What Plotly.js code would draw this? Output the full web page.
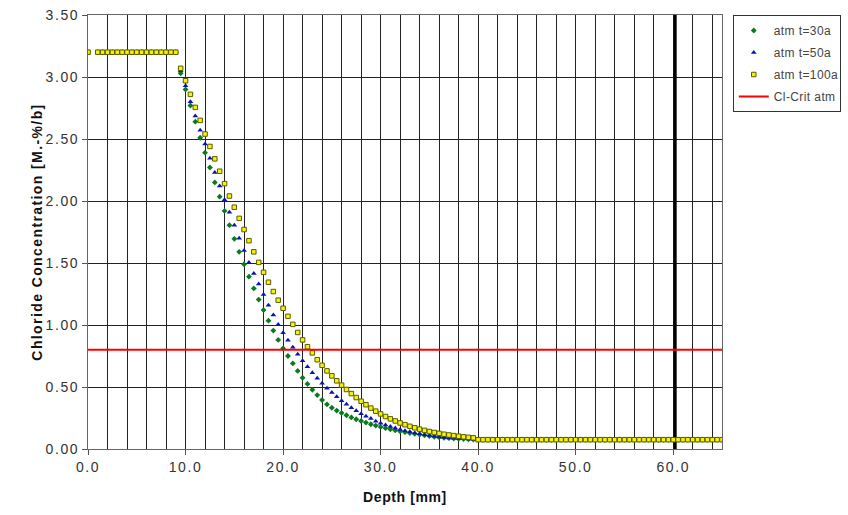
<!DOCTYPE html>
<html>
<head>
<meta charset="utf-8">
<script src="https://cdn.plot.ly/plotly-3.0.1.min.js"></script>
<style>
html,body{margin:0;padding:0;background:#fff;}
#chart{width:848px;height:515px;}
#chart .xtick text, #chart .ytick text { letter-spacing: 1.6px; }
#chart .ytitle { letter-spacing: 1.4px; }
#chart .xtitle { letter-spacing: 0.6px; }
#chart .legendtext { letter-spacing: 0.4px; }
</style>
</head>
<body>
<div id="chart"></div>
<script>
// ---- data ----
const seriesNames = ["atm t=30a", "atm t=50a", "atm t=100a"];
const critName = "Cl-Crit atm";

const plateauDepth = [0, 1.0, 1.5, 2.0, 2.5, 3.0, 3.5, 4.0, 4.5, 5.0, 5.5, 6.0, 6.5, 7.0, 7.5, 8.0, 8.5, 9.0];
const plateauConc  = [3.2, 3.2, 3.2, 3.2, 3.2, 3.2, 3.2, 3.2, 3.2, 3.2, 3.2, 3.2, 3.2, 3.2, 3.2, 3.2, 3.2, 3.2];

const profileDepth = [9.5, 10.0, 10.5, 11.0, 11.5, 12.0, 12.5, 13.0, 13.5, 14.0,
  14.5, 15.0, 15.5, 16.0, 16.5, 17.0, 17.5, 18.0, 18.5, 19.0,
  19.5, 20.0, 20.5, 21.0, 21.5, 22.0, 22.5, 23.0, 23.5, 24.0,
  24.5, 25.0, 25.5, 26.0, 26.5, 27.0, 27.5, 28.0, 28.5, 29.0,
  29.5, 30.0, 30.5, 31.0, 31.5, 32.0, 32.5, 33.0, 33.5, 34.0,
  34.5, 35.0, 35.5, 36.0, 36.5, 37.0, 37.5, 38.0, 38.5, 39.0, 39.5];

const conc30 = [3.03, 2.9, 2.77, 2.64, 2.51, 2.39, 2.27, 2.15, 2.035, 1.92,
  1.805, 1.695, 1.59, 1.49, 1.39, 1.295, 1.205, 1.12, 1.035, 0.955,
  0.88, 0.812, 0.75, 0.69, 0.63, 0.575, 0.525, 0.478, 0.435, 0.395,
  0.36, 0.333, 0.31, 0.29, 0.272, 0.255, 0.24, 0.226, 0.213, 0.2,
  0.189, 0.178, 0.168, 0.159, 0.151, 0.143, 0.136, 0.129, 0.122, 0.116,
  0.11, 0.104, 0.099, 0.095, 0.091, 0.088, 0.085, 0.082, 0.08, 0.078, 0.077];

const conc50 = [3.05, 2.93, 2.8, 2.685, 2.57, 2.46, 2.345, 2.23, 2.12, 2.01,
  1.91, 1.805, 1.7, 1.6, 1.505, 1.415, 1.33, 1.245, 1.16, 1.08,
  1.005, 0.938, 0.878, 0.82, 0.765, 0.712, 0.664, 0.615, 0.57, 0.53,
  0.49, 0.455, 0.422, 0.39, 0.36, 0.333, 0.308, 0.285, 0.264, 0.245,
  0.224, 0.208, 0.194, 0.181, 0.169, 0.158, 0.148, 0.139, 0.13, 0.122,
  0.115, 0.108, 0.102, 0.097, 0.093, 0.089, 0.086, 0.084, 0.082, 0.08, 0.079];

const conc100 = [3.07, 2.97, 2.86, 2.755, 2.65, 2.54, 2.44, 2.34, 2.24, 2.14,
  2.04, 1.95, 1.86, 1.77, 1.68, 1.59, 1.505, 1.425, 1.345, 1.27,
  1.2, 1.135, 1.07, 1.005, 0.94, 0.88, 0.825, 0.775, 0.72, 0.675,
  0.63, 0.59, 0.55, 0.515, 0.48, 0.447, 0.415, 0.385, 0.357, 0.33,
  0.305, 0.283, 0.262, 0.243, 0.226, 0.21, 0.196, 0.183, 0.171, 0.16,
  0.15, 0.141, 0.133, 0.126, 0.119, 0.113, 0.108, 0.103, 0.098, 0.094, 0.09];

const tailDepth = [40.0, 40.5, 41.0, 41.5, 42.0, 42.5, 43.0, 43.5, 44.0, 44.5,
  45.0, 45.5, 46.0, 46.5, 47.0, 47.5, 48.0, 48.5, 49.0, 49.5,
  50.0, 50.5, 51.0, 51.5, 52.0, 52.5, 53.0, 53.5, 54.0, 54.5,
  55.0, 55.5, 56.0, 56.5, 57.0, 57.5, 58.0, 58.5, 59.0, 59.5,
  60.0, 60.5, 61.0, 61.5, 62.0, 62.5, 63.0, 63.5, 64.0, 64.5, 65.0];
const tailConc = [0.075, 0.075, 0.075, 0.075, 0.075, 0.075, 0.075, 0.075, 0.075, 0.075,
  0.075, 0.075, 0.075, 0.075, 0.075, 0.075, 0.075, 0.075, 0.075, 0.075,
  0.075, 0.075, 0.075, 0.075, 0.075, 0.075, 0.075, 0.075, 0.075, 0.075,
  0.075, 0.075, 0.075, 0.075, 0.075, 0.075, 0.075, 0.075, 0.075, 0.075,
  0.075, 0.075, 0.075, 0.075, 0.075, 0.075, 0.075, 0.075, 0.075, 0.075, 0.075];

const critDepth = [0, 65];
const critConc = [0.8, 0.8];

const rebarDepth = [60.2, 60.2];
const rebarConc = [0, 3.5];

const xTickVals = [0, 10, 20, 30, 40, 50, 60];
const xTickText = ["0.0", "10.0", "20.0", "30.0", "40.0", "50.0", "60.0"];
const yTickVals = [0, 0.5, 1, 1.5, 2, 2.5, 3, 3.5];
const yTickText = ["0.00", "0.50", "1.00", "1.50", "2.00", "2.50", "3.00", "3.50"];

// ---- build traces ----
const fullDepth = plateauDepth.concat(profileDepth, tailDepth);
function full(profile) { return plateauConc.concat(profile, tailConc); }

const FONT = "Liberation Sans, Arial, sans-serif";

const traces = [
  {x: rebarDepth, y: rebarConc, mode: "lines", showlegend: false, hoverinfo: "skip",
   line: {color: "#000000", width: 3}},
  {x: fullDepth, y: full(conc30), name: seriesNames[0], mode: "markers", legendgroup: "a",
   marker: {symbol: "diamond", size: 4.5, color: "#0a7a1e", line: {width: 0}}},
  {x: fullDepth, y: full(conc50), name: seriesNames[1], mode: "markers", legendgroup: "b",
   marker: {symbol: "triangle-up", size: 5, color: "#0a14b4", line: {width: 0}}},
  {x: fullDepth, y: full(conc100), name: seriesNames[2], mode: "markers", legendgroup: "c",
   marker: {symbol: "square", size: 4.5, color: "#f5f500", line: {width: 1, color: "#5a5a00"}}},
  {x: critDepth, y: critConc, name: critName, mode: "lines", legendgroup: "d",
   line: {color: "#ff0000", width: 2}}
];

const layout = {
  width: 848, height: 515,
  margin: {l: 88, r: 126, t: 15, b: 66, autoexpand: false},
  paper_bgcolor: "#ffffff", plot_bgcolor: "#ffffff",
  font: {family: FONT, size: 12, color: "#222222"},
  showlegend: true,
  legend: {x: 1.017, y: 1.0, xanchor: "left", yanchor: "top",
           bordercolor: "#333333", borderwidth: 1, bgcolor: "#ffffff",
           font: {family: FONT, size: 12, color: "#444444"},
           traceorder: "grouped", tracegroupgap: 3, itemwidth: 30},
  xaxis: {range: [0, 65], tickvals: xTickVals, ticktext: xTickText,
          ticks: "outside", ticklen: 5, tickcolor: "#555555",
          showgrid: true, gridcolor: "#222222", gridwidth: 1,
          minor: {dtick: 2, showgrid: true, gridcolor: "#222222", gridwidth: 1},
          showline: true, linecolor: "#666666", linewidth: 1, mirror: true,
          zeroline: false, tickfont: {size: 14, color: "#333333"},
          title: {text: "<b>Depth [mm]</b>", font: {size: 14, color: "#111111"}, standoff: 18}},
  yaxis: {range: [0, 3.5], tickvals: yTickVals, ticktext: yTickText,
          ticks: "outside", ticklen: 5, tickcolor: "#555555",
          showgrid: true, gridcolor: "#222222", gridwidth: 1,
          showline: true, linecolor: "#666666", linewidth: 1, mirror: true,
          zeroline: false, tickfont: {size: 14, color: "#333333"},
          title: {text: "<b>Chloride Concentration [M.-%/b]</b>", font: {size: 14, color: "#111111"}, standoff: 6}}
};

Plotly.newPlot("chart", traces, layout, {staticPlot: true, displayModeBar: false});
</script>
</body>
</html>
